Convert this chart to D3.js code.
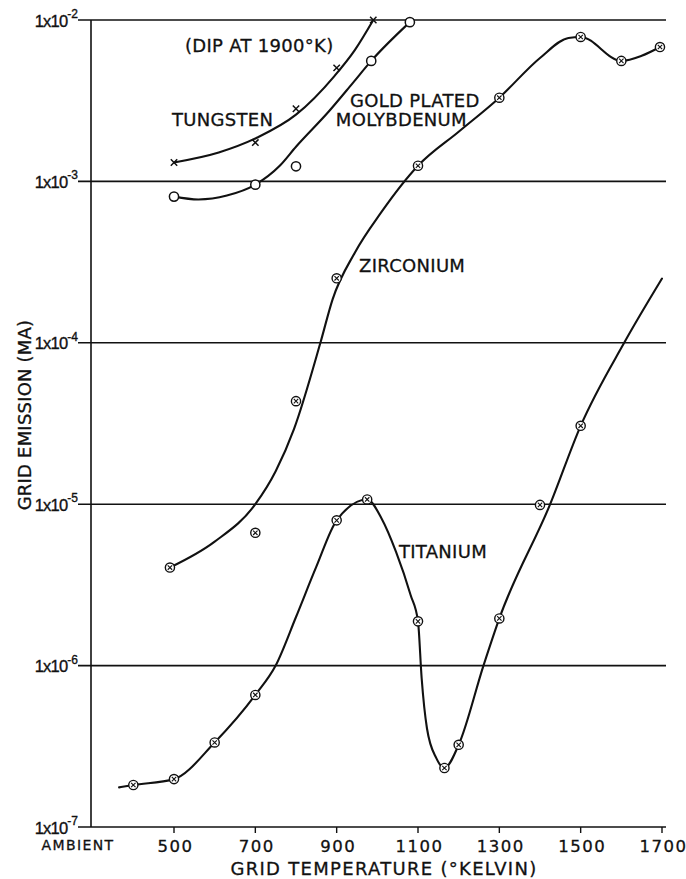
<!DOCTYPE html>
<html><head><meta charset="utf-8">
<script src="https://cdn.jsdelivr.net/npm/d3@7/dist/d3.min.js"></script>
<style>body{margin:0;background:#fff}svg{display:block}</style>
</head><body>
<svg id="chart" width="686" height="879"></svg>
<script>
// ---- axis data ----
const tempTicks = [500, 700, 900, 1100, 1300, 1500, 1700];
const tempTickLabels = ["500", "700", "900", "1100", "1300", "1500", "1700"];
const ambientLabel = "AMBIENT";
const decades = [1e-2, 1e-3, 1e-4, 1e-5, 1e-6, 1e-7];
const decadeExponents = ["-2", "-3", "-4", "-5", "-6", "-7"];
const xTitle = "GRID TEMPERATURE (\u00B0KELVIN)";
const yTitle = "GRID EMISSION (MA)";

// ---- measured points (temperature K, emission mA) ----
const tungstenT = [500, 700, 800, 900, 990];
const tungstenV = [1.31e-3, 1.74e-3, 2.82e-3, 5.05e-3, 1.0e-2];
const molyT = [500, 700, 800, 985, 1080];
const molyV = [8.05e-4, 9.55e-4, 1.24e-3, 5.58e-3, 9.7e-3];
const zircT = [490, 700, 800, 900, 1100, 1300, 1500, 1600, 1695];
const zircV = [4.05e-6, 6.65e-6, 4.35e-5, 2.51e-4, 1.25e-3, 3.3e-3, 7.85e-3, 5.58e-3, 6.8e-3];
const titanT = [400, 500, 600, 700, 900, 975, 1100, 1165, 1200, 1300, 1400, 1500];
const titanV = [1.82e-7, 1.98e-7, 3.34e-7, 6.58e-7, 7.94e-6, 1.07e-5, 1.88e-6, 2.32e-7, 3.23e-7, 1.96e-6, 9.9e-6, 3.06e-5];

// ---- hand-drawn fitted curves ----
const tungstenCurveT = [500, 610, 705, 800, 895, 945, 990];
const tungstenCurveV = [1.31e-3, 1.51e-3, 1.87e-3, 2.59e-3, 4.51e-3, 6.53e-3, 1.0e-2];
const molyCurveT = [500, 560, 630, 700, 760, 800, 880, 940, 985, 1080];
const molyCurveV = [8.05e-4, 7.73e-4, 8.17e-4, 9.55e-4, 1.25e-3, 1.64e-3, 2.7e-3, 4.08e-3, 5.58e-3, 9.7e-3];
const zircCurveT = [490, 600, 700, 750, 795, 860, 890, 945, 1009, 1100, 1200, 1300, 1400, 1470, 1500, 1600, 1650, 1695];
const zircCurveV = [4.05e-6, 5.86e-6, 1.0e-5, 1.6e-5, 2.92e-5, 1.0e-4, 1.86e-4, 3.63e-4, 6.4e-4, 1.25e-3, 2.03e-3, 3.3e-3, 5.82e-3, 7.74e-3, 7.85e-3, 5.58e-3, 6.0e-3, 6.8e-3];
const titanCurveT = [365, 400, 500, 600, 700, 750, 800, 850, 900, 975, 1011, 1046, 1082, 1100, 1109, 1122, 1145, 1165, 1200, 1261, 1300, 1425, 1500, 1607, 1700];
const titanCurveV = [1.76e-7, 1.82e-7, 1.98e-7, 3.34e-7, 6.58e-7, 1.0e-6, 2.0e-6, 4.1e-6, 7.94e-6, 1.07e-5, 8.1e-6, 5.06e-6, 2.73e-6, 1.88e-6, 8.35e-7, 4.09e-7, 2.67e-7, 2.32e-7, 3.23e-7, 1.0e-6, 1.96e-6, 1.0e-5, 3.06e-5, 1.0e-4, 2.5e-4];

// ---- labels ----
const seriesLabels = [
  {text: "(DIP AT 1900\u00B0K)", T: 527, v: 6.33e-3},
  {text: "TUNGSTEN", T: 495, v: 2.2e-3},
  {text: "GOLD PLATED", T: 933, v: 2.89e-3},
  {text: "MOLYBDENUM", T: 898, v: 2.2e-3},
  {text: "ZIRCONIUM", T: 955, v: 2.75e-4},
  {text: "TITANIUM", T: 1053, v: 4.64e-6}
];

const svg = d3.select("#chart");
const x = d3.scaleLinear().domain([500, 1700]).range([174, 662]);
const y = d3.scaleLog().domain([1e-7, 1e-2]).range([827, 20]);
const axisX = 91, gridLeft = 78, gridRight = 666;
const ink = "#111";

// gridlines
svg.append("g").selectAll("line").data(decades).join("line")
  .attr("x1", gridLeft).attr("x2", gridRight)
  .attr("y1", d => y(d)).attr("y2", d => y(d))
  .attr("stroke", ink).attr("stroke-width", 1.6);
// y axis
svg.append("line").attr("x1", axisX).attr("x2", axisX)
  .attr("y1", y(1e-2)).attr("y2", y(1e-7)).attr("stroke", ink).attr("stroke-width", 1.6);
// x ticks
svg.append("g").selectAll("line").data(tempTicks).join("line")
  .attr("x1", d => x(d)).attr("x2", d => x(d))
  .attr("y1", y(1e-7)).attr("y2", y(1e-7) + 6)
  .attr("stroke", ink).attr("stroke-width", 1.4);

// y tick labels
const yl = svg.append("g").attr("font-family", "Liberation Sans, Arial, sans-serif")
  .attr("fill", ink).attr("stroke", ink).attr("stroke-width", 0.35);
decades.forEach((d, i) => {
  const t = yl.append("text").attr("x", 78).attr("y", y(d) + 6.5).attr("text-anchor", "end")
    .attr("font-size", 16.5).attr("letter-spacing", -0.8);
  t.append("tspan").text("1x10");
  t.append("tspan").attr("dy", -8.5).attr("font-size", 12).attr("letter-spacing", 0).text(decadeExponents[i]);
});

// x tick labels and titles
const xl = svg.append("g").attr("font-family", "DejaVu Sans, sans-serif")
  .attr("fill", ink).attr("stroke", ink).attr("stroke-width", 0.3);
xl.selectAll("text.tick").data(tempTicks).join("text").attr("class", "tick")
  .attr("x", d => x(d) + 1.5).attr("y", 852).attr("text-anchor", "middle")
  .attr("font-size", 16.5).attr("letter-spacing", 1.5)
  .text((d, i) => tempTickLabels[i]);
xl.append("text").attr("x", 78).attr("y", 850).attr("text-anchor", "middle")
  .attr("font-size", 14).attr("letter-spacing", 1.4).text(ambientLabel);
xl.append("text").attr("x", 384).attr("y", 875).attr("text-anchor", "middle")
  .attr("font-size", 18).attr("letter-spacing", 1.3).text(xTitle);
xl.append("text").attr("transform", "translate(31,415) rotate(-90)").attr("text-anchor", "middle")
  .attr("font-size", 18).attr("letter-spacing", 0.2).text(yTitle);

// curves
const line = d3.line().x(d => x(d[0])).y(d => y(d[1])).curve(d3.curveMonotoneX);
const curves = [
  [tungstenCurveT, tungstenCurveV], [molyCurveT, molyCurveV],
  [zircCurveT, zircCurveV], [titanCurveT, titanCurveV]
];
svg.append("g").selectAll("path").data(curves).join("path")
  .attr("d", c => line(c[0].map((t, i) => [t, c[1][i]])))
  .attr("fill", "none").attr("stroke", ink).attr("stroke-width", 2.1)
  .attr("stroke-linejoin", "round").attr("stroke-linecap", "round");

// markers
const zip = (T, V) => T.map((t, i) => ({t, v: V[i]}));
// x markers (tungsten)
svg.append("g").selectAll("path").data(zip(tungstenT, tungstenV)).join("path")
  .attr("d", d => {
    const cx = x(d.t), cy = y(d.v), s = 3.2;
    return `M${cx - s},${cy - s}L${cx + s},${cy + s}M${cx - s},${cy + s}L${cx + s},${cy - s}`;
  })
  .attr("stroke", ink).attr("stroke-width", 1.5);
// open circles (moly)
svg.append("g").selectAll("circle").data(zip(molyT, molyV)).join("circle")
  .attr("cx", d => x(d.t)).attr("cy", d => y(d.v)).attr("r", 4.6)
  .attr("fill", "#fff").attr("stroke", ink).attr("stroke-width", 1.5);
// crossed circles (zirconium, titanium)
const crossed = zip(zircT, zircV).concat(zip(titanT, titanV));
const cg = svg.append("g").selectAll("g").data(crossed).join("g")
  .attr("transform", d => `translate(${x(d.t)},${y(d.v)})`);
cg.append("circle").attr("r", 4.6).attr("fill", "#fff").attr("stroke", ink).attr("stroke-width", 1.4);
cg.append("path").attr("d", "M-2.2,-2.2L2.2,2.2M-2.2,2.2L2.2,-2.2").attr("stroke", ink).attr("stroke-width", 1.1);

// series labels
svg.append("g").attr("font-family", "DejaVu Sans, sans-serif")
  .attr("fill", ink).attr("stroke", ink).attr("stroke-width", 0.3)
  .selectAll("text").data(seriesLabels).join("text")
  .attr("x", d => x(d.T)).attr("y", d => y(d.v))
  .attr("font-size", 18).attr("letter-spacing", 0.3)
  .text(d => d.text);
</script>
</body></html>
